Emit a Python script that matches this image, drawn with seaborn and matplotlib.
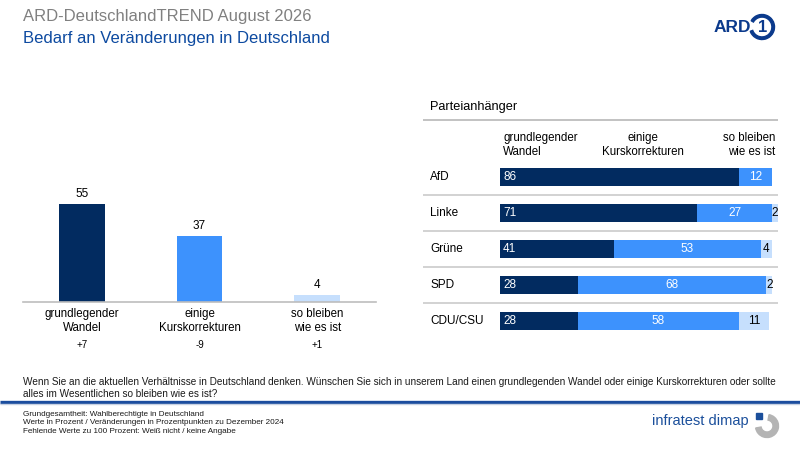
import matplotlib
matplotlib.use("Agg")
import matplotlib.pyplot as plt
from matplotlib.patches import Wedge, Rectangle
import matplotlib.transforms as mtransforms
import numpy as np
import pandas as pd
import seaborn as sns

# ---------------- data ----------------
categories = ["grundlegender\nWandel", "einige\nKurskorrekturen", "so bleiben\nwie es ist"]
overall_values = [55, 37, 4]
overall_changes = ["+7", "-9", "+1"]

parties = ["AfD", "Linke", "Grüne", "SPD", "CDU/CSU"]
wandel = [86, 71, 41, 28, 28]
korrekturen = [12, 27, 53, 68, 58]
bleiben = [0, 2, 4, 2, 11]

title1 = "ARD-DeutschlandTREND August 2026"
title2 = "Bedarf an Veränderungen in Deutschland"
panel_title = "Parteianhänger"
question = ("Wenn Sie an die aktuellen Verhältnisse in Deutschland denken. Wünschen Sie sich in unserem Land einen "
            "grundlegenden Wandel oder einige Kurskorrekturen oder sollte\nalles im Wesentlichen so bleiben wie es ist?")
footer = ("Grundgesamtheit: Wahlberechtigte in Deutschland\n"
          "Werte in Prozent / Veränderungen in Prozentpunkten zu Dezember 2024\n"
          "Fehlende Werte zu 100 Prozent: Weiß nicht / keine Angabe")

DARK = "#022b60"
MID = "#3d92fd"
LIGHT = "#c6dffd"
palette = [DARK, MID, LIGHT]

sns.set_theme(style="white")
plt.rcParams["font.family"] = ["Liberation Sans", "DejaVu Sans"]

W, H = 800, 450
fig = plt.figure(figsize=(8, 4.5), dpi=100)
fig.patch.set_facecolor("white")

def rect(x0, y0, x1, y1):
    # pixel box (top-left origin) -> figure fraction
    return [x0 / W, 1 - y1 / H, (x1 - x0) / W, (y1 - y0) / H]

# ---------------- left chart ----------------
ax1 = fig.add_axes(rect(23, 180, 376, 302))
df_left = pd.DataFrame({"cat": categories, "val": overall_values})
sns.barplot(data=df_left, x="cat", y="val", hue="cat", palette=palette,
            legend=False, width=0.39, ax=ax1, saturation=1,
            linewidth=0, edgecolor="none")
ax1.set_xlim(-0.5, 2.5)
ax1.set_ylim(0, 68.5)
ax1.set_xlabel("")
ax1.set_ylabel("")
ax1.set_yticks([])
for s in ["top", "right", "left"]:
    ax1.spines[s].set_visible(False)
ax1.spines["bottom"].set_color("#bdbdbd")
ax1.spines["bottom"].set_linewidth(1.2)
ax1.tick_params(axis="x", length=0, pad=4, labelsize=8.3, colors="#000000")
for lab in ax1.get_xticklabels():
    lab.set_linespacing(1.3)
for i, v in enumerate(overall_values):
    ax1.annotate(str(v), (i, v), xytext=(0, 3), textcoords="offset points",
                 ha="center", va="bottom", fontsize=8.5, color="#000000")
trans1 = mtransforms.blended_transform_factory(ax1.transData, fig.transFigure)
for i, c in enumerate(overall_changes):
    ax1.text(i, 1 - 345 / H, c, transform=trans1, ha="center", va="center",
             fontsize=7, color="#000000")

# ---------------- right chart ----------------
ax2 = fig.add_axes(rect(423, 87, 778, 339))
cum1 = np.array(wandel)
cum2 = cum1 + np.array(korrekturen)
cum3 = cum2 + np.array(bleiben)
df_r = pd.DataFrame({"party": parties, "c1": cum1, "c2": cum2, "c3": cum3})
for col, colr in [("c3", LIGHT), ("c2", MID), ("c1", DARK)]:
    sns.barplot(data=df_r, x=col, y="party", color=colr, orient="h",
                width=0.5, ax=ax2, saturation=1, linewidth=0, edgecolor="none")
x0_px, px_per_unit = 500.0, 2.776
ax2.set_xlim((423 - x0_px) / px_per_unit, (778 - x0_px) / px_per_unit)
ax2.set_ylim(4.5, -2.5)
ax2.axis("off")
xl = ax2.get_xlim()
for i, p in enumerate(parties):
    ax2.text((430 - x0_px) / px_per_unit, i, p, ha="left", va="center",
             fontsize=8.5, color="#000000")
    ax2.text(1.1, i, str(wandel[i]), ha="left", va="center", fontsize=8.5, color="white")
    ax2.text(cum1[i] + korrekturen[i] / 2, i, str(korrekturen[i]), ha="center",
             va="center", fontsize=8.5, color="white")
    if bleiben[i] > 0:
        ax2.text(cum2[i] + bleiben[i] / 2, i, str(bleiben[i]), ha="center",
                 va="center", fontsize=8.5, color="#000000")
for i in range(len(parties) - 1):
    ax2.hlines(i + 0.5, xl[0], xl[1], color="#cfcfcf", lw=1.3)
ax2.hlines((120 - 177) / 36, xl[0], xl[1], color="#bdbdbd", lw=1.3)
ax2.text((430 - x0_px) / px_per_unit, (107 - 177) / 36, panel_title, ha="left",
         va="center", fontsize=9.2, color="#000000")
hy = (145 - 177) / 36
ax2.text((503 - x0_px) / px_per_unit, hy, "grundlegender\nWandel", ha="left",
         va="center", fontsize=8.3, linespacing=1.25, color="#000000")
ax2.text((643 - x0_px) / px_per_unit, hy, "einige\nKurskorrekturen", ha="center",
         va="center", fontsize=8.3, linespacing=1.25, color="#000000")
ax2.text((775 - x0_px) / px_per_unit, hy, "so bleiben\nwie es ist", ha="right",
         va="center", fontsize=8.3, linespacing=1.25, color="#000000",
         multialignment="right")

# ---------------- decoration overlay (pixel coords, y downwards) ----------------
ov = fig.add_axes([0, 0, 1, 1], zorder=-1)
ov.set_xlim(0, W)
ov.set_ylim(H, 0)
ov.axis("off")

ov.text(23, 17, title1, fontsize=12.0, color="#808080", ha="left", va="center")
ov.text(23, 39, title2, fontsize=12.0, color="#0d4aa0", ha="left", va="center")

# ARD logo
ov.text(732, 28, "ARD", fontsize=12.5, fontweight="bold", color="#0b3a8c",
        ha="center", va="center")
ov.add_patch(Wedge((762, 27), 12.5, -150, 160, width=2.6, color="#0b3a8c"))
ov.text(762.5, 27.5, "1", fontsize=12, fontweight="bold", color="#0b3a8c",
        ha="center", va="center")

ov.text(23, 388, question, fontsize=7.2, color="#1a1a1a", ha="left", va="center",
        linespacing=1.35)
ov.plot([0, W], [401.5, 401.5], color="#1b4d9e", lw=2.4, solid_capstyle="butt")
ov.plot([0, W], [404, 404], color="#c8d2e2", lw=1.0, solid_capstyle="butt")
ov.text(23, 423, footer, fontsize=5.9, color="#1a1a1a", ha="left", va="center",
        linespacing=1.3)

# infratest dimap logo (y axis inverted: gap at upper-left)
ov.text(700, 421, "infratest dimap", fontsize=10.5, color="#1b4f9b",
        ha="center", va="center")
ov.add_patch(Wedge((767, 426), 11.5, -80, 170, width=5.5, color="#b4b4b4"))
ov.add_patch(Rectangle((755.5, 412.5), 6, 6, color="#1b4f9b"))

fig.savefig("out.png", dpi=100, facecolor="white")
